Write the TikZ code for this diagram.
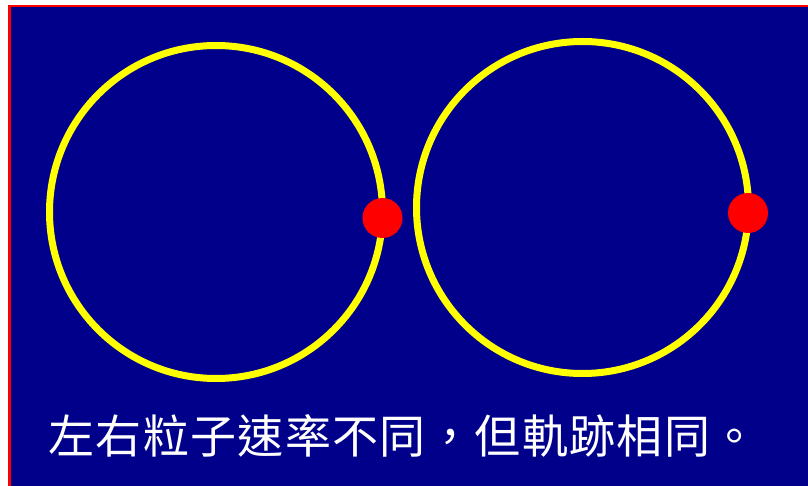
\documentclass[tikz,border=0pt]{standalone}
\usepackage{fontspec}
\newfontfamily\cjk[LetterSpace=3]{Noto Sans CJK TC}
\definecolor{navybg}{RGB}{0,0,139}
\definecolor{ringyellow}{RGB}{255,255,0}
\definecolor{dotred}{RGB}{255,0,0}
\tikzset{
  ring/.style={draw=ringyellow, line width=7pt},
  particle/.style={fill=dotred},
  caption/.style={text=white, inner sep=0pt, font=\cjk\fontsize{46}{50}\selectfont}
}
\begin{document}
\begin{tikzpicture}[x=1pt,y=-1pt]
\useasboundingbox (0,0) rectangle (808,486);
\fill[white] (0,0) rectangle (808,486);
\fill[navybg] (8,5) rectangle (808,486);
\fill[dotred] (8,5) rectangle (808,7);
\fill[dotred] (8,5) rectangle (11,486);
% left orbit
\draw[ring] (216,212) circle[radius=166.5pt];
\fill[particle] (382.5,218) circle[radius=20pt];
% right orbit
\draw[ring] (582.5,207.5) circle[radius=166pt];
\fill[particle] (748,213) circle[radius=20pt];
\node[caption] (cap) at (403,436) {左右粒子速率不同，但軌跡相同。};
\end{tikzpicture}
\end{document}
